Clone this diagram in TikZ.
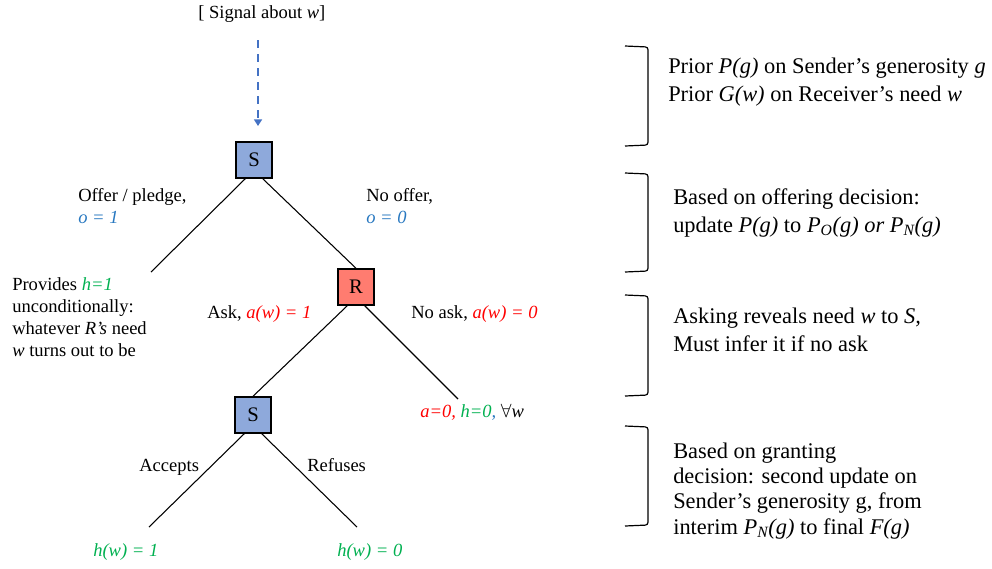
\documentclass[tikz,border=0pt]{standalone}
\usepackage{fontspec}
\setmainfont{Liberation Serif}
\usetikzlibrary{arrows.meta}
\definecolor{offerblue}{HTML}{2878C0}
\definecolor{helpgreen}{HTML}{00B050}
\definecolor{askred}{HTML}{FF0000}
\definecolor{sfill}{HTML}{8EA9DB}
\definecolor{rfill}{HTML}{FF7C70}
\definecolor{signalblue}{HTML}{4472C4}
\newcommand\lblfont{\fontsize{13.9}{16.5}\selectfont}
\newcommand\notefont{\fontsize{16.8}{21}\selectfont}
\begin{document}
\begin{tikzpicture}[x=0.75pt,y=-0.75pt,
    player/.style={draw=black,line width=1.1pt,minimum size=27pt,inner sep=0pt,font=\fontsize{15.5}{18}\selectfont},
    branch/.style={line width=0.8pt},
    lbl/.style={anchor=base west,inner sep=0pt,align=left,font=\lblfont},
    note/.style={anchor=base west,inner sep=0pt,align=left,font=\notefont}]
  \useasboundingbox (0,0) rectangle (992,568);
  % signal
  \node [lbl] (signal) at (198,18) {[ Signal about \textit{w}]};
  \coordinate (sigtop) at (258,40);
  \coordinate (sigend) at (258,126);
  \draw [signalblue,line width=1.5pt,dash pattern=on 6pt off 4.5pt,-{Triangle[width=6pt,length=5pt]}] (sigtop) -- (sigend);
  % players
  \node [player,fill=sfill] (S1) at (254,160) {S};
  \node [player,fill=rfill] (R) at (356,287) {R};
  \node [player,fill=sfill] (S2) at (253,415) {S};
  \coordinate (offer) at (151,272);
  \coordinate (noask) at (458,399);
  \coordinate (accept) at (149,527);
  \coordinate (refuse) at (357,527);
  \draw [branch] (S1.-115) -- (offer);
  \draw [branch] (S1.-65) -- (R.north);
  \draw [branch] (R.-115) -- (S2.north);
  \draw [branch] (R.-65) -- (noask);
  \draw [branch] (S2.-115) -- (accept);
  \draw [branch] (S2.-65) -- (refuse);
  % branch labels (placed at the baseline of their last line)
  \node [lbl] (offerlbl) at (78,223) {Offer / pledge,\\\textcolor{offerblue}{\textit{o = 1}}};
  \node [lbl] (noofferlbl) at (366,223) {No offer,\\\textcolor{offerblue}{\textit{o = 0}}};
  \node [lbl] (provides) at (12,356) {Provides \textcolor{helpgreen}{\textit{h=1}}\\unconditionally:\\whatever \textit{R's} need\\\textit{w} turns out to be};
  \node [lbl] (asklbl) at (207,318) {Ask, \textcolor{askred}{\textit{a(w) = 1}}};
  \node [lbl] (noasklbl) at (411,318) {No ask, \textcolor{askred}{\textit{a(w) = 0}}};
  \node [lbl] (noaskend) at (420,417) {\textcolor{askred}{\textit{a=0,}} \textcolor{helpgreen}{\textit{h=0}}\textcolor{offerblue}{\textit{,}} $\forall$\textit{w}};
  \node [lbl] (acceptlbl) at (139,471) {Accepts};
  \node [lbl] (refuselbl) at (307,471) {Refuses};
  \node [lbl] (acceptend) at (93,556) {\textcolor{helpgreen}{\textit{h(w) = 1}}};
  \node [lbl] (refuseend) at (337,556) {\textcolor{helpgreen}{\textit{h(w) = 0}}};
  % brackets
  \foreach \t/\b in {46/146,173/272,295/396,426/526}{
    \draw [line width=0.9pt,rounded corners=2pt] (625,\t) -- (648,\t+1) -- (648,\b-1) -- (625,\b);
  }
  % stage notes
  \node [note] (prior) at (668,101) {Prior \textit{P(g)} on Sender’s generosity \textit{g}\\Prior \textit{G(w)} on Receiver’s need \textit{w}};
  \node [note] (offerupd) at (673,232) {Based on offering decision:\\update \textit{P(g)} to \textit{P\textsubscript{O}(g) or P\textsubscript{N}(g)}};
  \node [note,font=\fontsize{16.8}{20.3}\selectfont] (askupd) at (673,351) {Asking reveals need \textit{w} to \textit{S,}\\Must infer it if no ask};
  \node [note,font=\fontsize{16.8}{18.8}\selectfont] (grantupd) at (673,534) {Based on granting\\decision: second update on\\Sender’s generosity g, from\\interim \textit{P\textsubscript{N}(g)} to final \textit{F(g)}};
\end{tikzpicture}
\end{document}
